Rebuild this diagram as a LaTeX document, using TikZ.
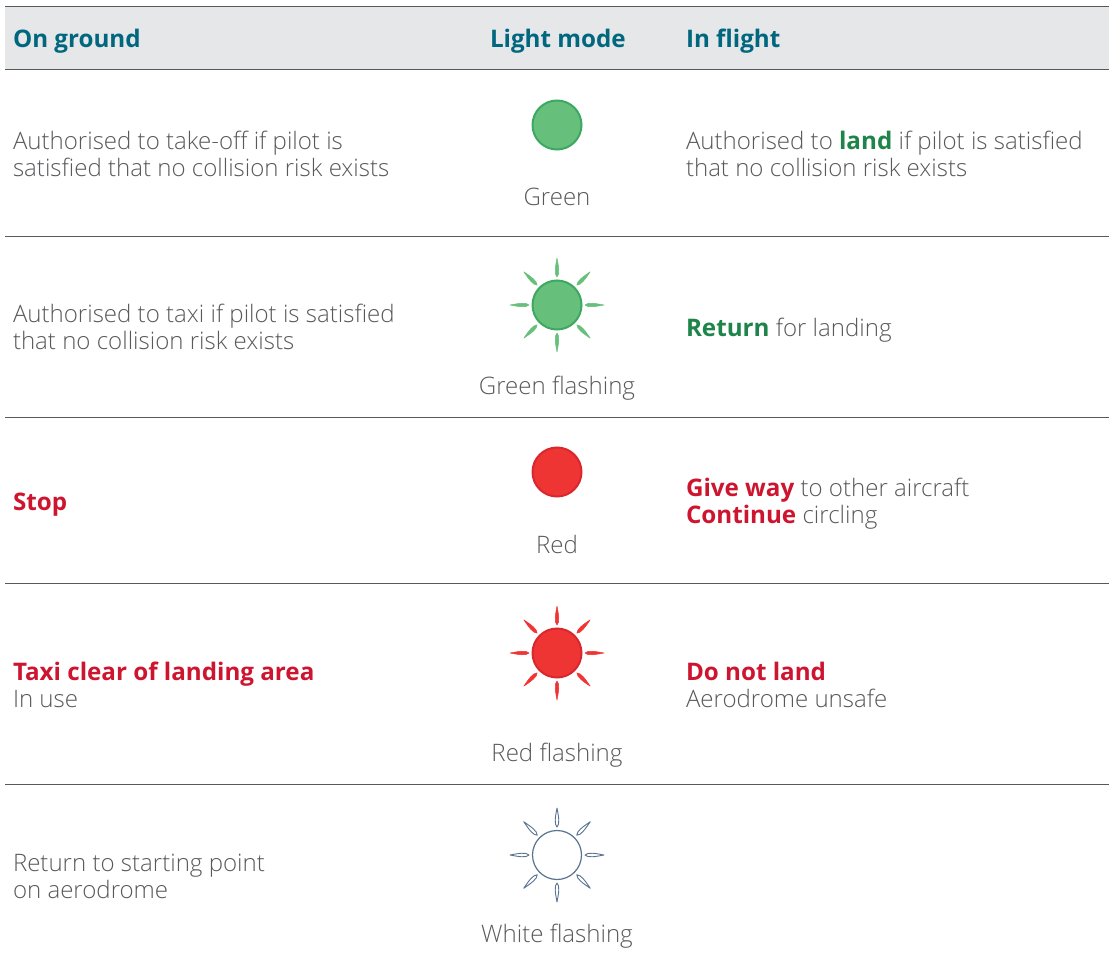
\documentclass[tikz,border=0pt]{standalone}
\usepackage{fontspec}
\setmainfont{Open Sans Light}[BoldFont={Open Sans Bold},BoldFeatures={Scale=1.006}]
\definecolor{headfill}{HTML}{E6E7E8}
\definecolor{rulegrey}{HTML}{58595B}
\definecolor{txt}{HTML}{58595B}
\definecolor{teal}{HTML}{00677F}
\definecolor{gtxt}{HTML}{1E8449}
\definecolor{rtxt}{HTML}{CE1530}
\definecolor{gfill}{HTML}{66BF7B}
\definecolor{gline}{HTML}{3CA861}
\definecolor{rfill}{HTML}{EF3434}
\definecolor{rline}{HTML}{D9272E}
\definecolor{wline}{HTML}{5A7391}
\newcommand{\gtx}[1]{\textbf{\textcolor{gtxt}{#1}}}
\newcommand{\rtx}[1]{\textbf{\textcolor{rtxt}{#1}}}
\newcommand{\raysat}[4]{%
  \foreach \a in {0,45,...,315}{%
    \path[fill=#2,draw=#3,line width=#4,line join=round,shift={(#1)},rotate=\a]
      (28,0) .. controls (31,-3) and (38,-1.7) .. (47,0)
      .. controls (38,1.7) and (31,3) .. (28,0) -- cycle;
  }}
\tikzset{
  x=1pt,y=-1pt,
  body/.style={font=\fontsize{24.05pt}{27pt}\selectfont,text=txt,inner sep=0pt,outer sep=0pt,align=left,anchor=base west},
  captxt/.style={font=\fontsize{24.05pt}{27pt}\selectfont,text=txt,inner sep=0pt,outer sep=0pt,anchor=base},
  head/.style={font=\fontsize{24.05pt}{27pt}\selectfont\bfseries,text=teal,inner sep=0pt,outer sep=0pt,anchor=base west},
  rowrule/.style={draw=rulegrey,line width=0.9pt},
  gl/.style={circle,minimum size=49pt,inner sep=0pt,fill=gfill,draw=gline,line width=2pt},
  rl/.style={circle,minimum size=49pt,inner sep=0pt,fill=rfill,draw=rline,line width=2pt},
  wl/.style={circle,minimum size=49pt,inner sep=0pt,fill=white,draw=wline,line width=1.2pt},
}
\begin{document}
\begin{tikzpicture}
\useasboundingbox (0,0) rectangle (1109,963);
\fill[headfill] (5,6) rectangle (1109,69);
\coordinate (t0) at (5,6); \coordinate (t1) at (1109,6);
\coordinate (a0) at (5,69); \coordinate (a1) at (1109,69);
\coordinate (b0) at (5,236); \coordinate (b1) at (1109,236);
\coordinate (c0) at (5,417); \coordinate (c1) at (1109,417);
\coordinate (d0) at (5,583); \coordinate (d1) at (1109,583);
\coordinate (e0) at (5,784); \coordinate (e1) at (1109,784);
\foreach \p in {t,a,b,c,d,e} \draw[rowrule] (\p0) -- (\p1);

\node[head] (h1) at (13,48) {On ground};
\node[head] (h2) at (490,48) {Light mode};
\node[head] (h3) at (686,48) {In flight};

\node[body] (g1) at (13,176) {Authorised to take-off if pilot is\\satisfied that no collision risk exists};
\node[body] (f1) at (686,176) {Authorised to \gtx{land} if pilot is satisfied\\that no collision risk exists};
\node[gl] (l1) at (557,125) {};
\node[captxt] (c1t) at (557,205) {Green};

\node[body] (g2) at (13,349) {Authorised to taxi if pilot is satisfied\\that no collision risk exists};
\node[body] (f2) at (686,336) {\gtx{Return} for landing};
\raysat{557,305}{gfill}{gfill}{0.5pt}
\node[gl] (l2) at (557,305) {};
\node[captxt] (c2t) at (557,394) {Green flashing};

\node[body] (g3) at (13,510) {\rtx{Stop}};
\node[body] (f3) at (686,523) {\rtx{Give way} to other aircraft\\\rtx{Continue} circling};
\node[rl] (l3) at (557,472) {};
\node[captxt] (c3t) at (557,553) {Red};

\node[body] (g4) at (13,707) {\rtx{Taxi clear of landing area}\\In use};
\node[body] (f4) at (686,707) {\rtx{Do not land}\\Aerodrome unsafe};
\raysat{557,653}{rfill}{rfill}{0.5pt}
\node[rl] (l4) at (557,653) {};
\node[captxt] (c4t) at (557,761) {Red flashing};

\node[body] (g5) at (13,898) {Return to starting point\\on aerodrome};
\raysat{557,855}{white}{wline}{0.9pt}
\node[wl] (l5) at (557,855) {};
\node[captxt] (c5t) at (557,942) {White flashing};
\end{tikzpicture}
\end{document}
